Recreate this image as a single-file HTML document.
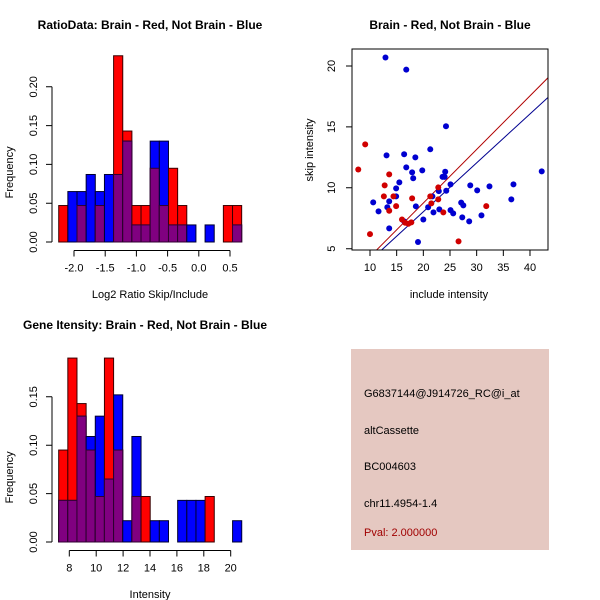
<!DOCTYPE html>
<html><head><meta charset="utf-8">
<style>
body{margin:0;background:#fff;}
svg{display:block;font-family:"Liberation Sans",sans-serif;}
</style></head>
<body>
<svg id="c" width="600" height="600" viewBox="0 0 600 600">
<rect width="600" height="600" fill="#fff"/>
<g id="h1"></g>
<g id="sc"></g>
<g id="h2"></g>
<g>
<rect x="351" y="349" width="198" height="201" fill="#e5c8c1"/>
<text x="364" y="397" font-size="11">G6837144@J914726_RC@i_at</text>
<text x="364" y="434" font-size="11">altCassette</text>
<text x="364" y="470" font-size="11">BC004603</text>
<text x="364" y="507" font-size="11">chr11.4954-1.4</text>
<text x="364" y="536" font-size="11" fill="#a00000">Pval: 2.000000</text>
</g>
</svg>
<script>
// ---- Histogram 1 data (RatioData) ----
const h1Red  = [0.047,0,0.047,0,0.047,0,0.24,0.143,0.047,0.047,0.095,0.047,0.095,0.047,0,0,0,0,0.047,0.047];
const h1Blue = [0,0.065,0.065,0.087,0.065,0.087,0.087,0.13,0.022,0.022,0.13,0.13,0.022,0.022,0.022,0,0.022,0,0,0.022];
const h1XTicks = [-2.0,-1.5,-1.0,-0.5,0.0,0.5];
const h1YTicks = [0.00,0.05,0.10,0.15,0.20];
// ---- Histogram 2 data (Gene intensity) ----
const h2Red  = [0.095,0.19,0.143,0.095,0.047,0.19,0.095,0,0.047,0.047,0,0,0,0,0,0,0.047,0,0,0];
const h2Blue = [0.043,0.043,0.13,0.109,0.13,0.065,0.152,0.022,0.109,0,0.022,0.022,0,0.043,0.043,0.043,0,0,0,0.022];
const h2XTicks = [8,10,12,14,16,18,20];
const h2YTicks = [0.00,0.05,0.10,0.15];
// ---- Scatter data ----
const blueX = [12.9,16.8,24.25,13.1,16.4,18.5,21.3,16.8,17.9,18.1,19.8,24.1,23.6,24.0,15.5,14.9,22.9,24.3,25.1,28.8,30.1,32.4,36.9,36.5,42.2,10.6,11.6,13.6,13.25,14.9,18.6,20.9,21.7,21.9,23.0,25.1,25.6,27.1,27.5,27.3,30.9,28.6,16.4,20.0,13.6,19.0];
const blueY = [20.7,19.7,15.05,12.66,12.75,12.5,13.16,11.68,11.27,10.78,11.43,11.32,10.9,10.9,10.45,9.95,9.73,9.76,10.28,10.2,9.79,10.12,10.28,9.05,11.35,8.8,8.06,8.89,8.4,9.3,8.48,8.4,9.3,7.98,8.23,8.17,7.9,8.78,8.56,7.57,7.74,7.24,7.24,7.4,6.67,5.55];
const redX = [7.8,9.1,10.0,13.6,12.75,12.6,13.6,14.4,14.9,16.0,16.6,17.2,17.75,17.9,21.3,21.5,22.8,22.8,23.75,26.6,31.8];
const redY = [11.5,13.57,6.2,11.1,10.2,9.3,8.12,9.3,8.5,7.4,7.13,7.05,7.16,9.13,9.3,8.72,10.03,9.05,7.98,5.6,8.5];
const redLine = [0.44,-0.05];   // slope, intercept
const blueLine = [0.4016,0.0];
const scXTicks = [10,15,20,25,30,35,40];
const scYTicks = [5,10,15,20];

const NS="http://www.w3.org/2000/svg";
function mk(parent,tag,attrs){const e=document.createElementNS(NS,tag);for(const k in attrs)e.setAttribute(k,attrs[k]);parent.appendChild(e);return e;}

function hist(gid,red,blue,lo,hi,xTicks,yTicks,x0,x1,y0,yPerUnit,xPx,title,titleY,xlab,xlabY,axisY,fmt){
  const g=document.getElementById(gid);
  const n=red.length, w=(hi-lo)/n;
  const sx=v=>xPx[0]+(v-xTicks[0])*xPx[1];
  const sy=v=>y0-v*yPerUnit;
  for(let i=0;i<n;i++){
    const a=sx(lo+i*w), b=sx(lo+(i+1)*w);
    const r=red[i], bl=blue[i], m=Math.min(r,bl);
    if(r>0){const e=mk(g,'rect',{x:a,y:sy(r),width:b-a,height:sy(0)-sy(r),fill:'#ff0000',stroke:'#3a0000','stroke-width':1});
      
      }
    if(bl>0){const e=mk(g,'rect',{x:a,y:sy(bl),width:b-a,height:sy(0)-sy(bl),fill:'#0000ff',stroke:'#000030','stroke-width':1});
      
      }
    if(m>0){const e=mk(g,'rect',{x:a,y:sy(m),width:b-a,height:sy(0)-sy(m),fill:'#800080',stroke:'#300030','stroke-width':1});
      
      }
  }
  const xa=mk(g,'path',{d:`M${sx(xTicks[0])},${axisY}H${sx(xTicks[xTicks.length-1])}`+xTicks.map(t=>`M${sx(t)},${axisY}v6`).join(''),stroke:'#000',fill:'none'});
  
  
  xTicks.forEach(t=>{const e=mk(g,'text',{x:sx(t),y:axisY+21,'font-size':11,'text-anchor':'middle'});e.textContent=fmt(t);
    
    });
  const ya=mk(g,'path',{d:`M52,${sy(yTicks[0])}V${sy(yTicks[yTicks.length-1])}`+yTicks.map(t=>`M52,${sy(t)}h-6`).join(''),stroke:'#000',fill:'none'});
  
  
  yTicks.forEach(t=>{const e=mk(g,'text',{x:0,y:0,'font-size':11,'text-anchor':'middle',transform:`translate(37,${sy(t)}) rotate(-90)`});e.textContent=t.toFixed(2);
    
    });
  const tt=mk(g,'text',{x:x0,y:titleY,'font-size':12,'font-weight':'bold','text-anchor':'middle'});tt.textContent=title;
  
  
  const xl=mk(g,'text',{x:x1,y:xlabY,'font-size':11,'text-anchor':'middle'});xl.textContent=xlab;
  
  
  const yl=mk(g,'text',{x:0,y:0,'font-size':11,'text-anchor':'middle',transform:`translate(13,${(sy(0)+sy(yTicks[yTicks.length-1]))/2+8}) rotate(-90)`});yl.textContent='Frequency';
  
  
}
hist('h1',h1Red,h1Blue,-2.245,0.687,h1XTicks,h1YTicks,150,150,242,776,[74,62.4],
  'RatioData: Brain - Red, Not Brain - Blue',29,'Log2 Ratio Skip/Include',298,250.5,t=>t.toFixed(1));
hist('h2',h2Red,h2Blue,7.21,20.82,h2XTicks,h2YTicks,145,150,542,968,[69.3,13.45],
  'Gene Itensity: Brain - Red, Not Brain - Blue',329,'Intensity',598,550.5,t=>String(t));

(function(){
  const g=document.getElementById('sc');
  const L=352,R=548,T=49,B=250;
  const sx=v=>370+(v-10)*5.333;
  const sy=v=>66-(v-20)*12.18;
  const cp=mk(g,'clipPath',{id:'scclip'});mk(cp,'rect',{x:L,y:T,width:R-L,height:B-T});
  [[redLine,'#b00000','red-fit-line'],[blueLine,'#000090','blue-fit-line']].forEach(([ln,col,nm])=>{
    const xa=0,xb=50;
    const e=mk(g,'line',{x1:sx(xa),y1:sy(ln[0]*xa+ln[1]),x2:sx(xb),y2:sy(ln[0]*xb+ln[1]),stroke:col,'stroke-width':1,'clip-path':'url(#scclip)'});
    
    
  });
  blueX.forEach((x,i)=>{const e=mk(g,'circle',{cx:sx(x),cy:sy(blueY[i]),r:3,fill:'#0000d0'});
    
    });
  redX.forEach((x,i)=>{const e=mk(g,'circle',{cx:sx(x),cy:sy(redY[i]),r:3,fill:'#d00000'});
    
    });
  const box=mk(g,'rect',{x:L,y:T,width:R-L,height:B-T,fill:'none',stroke:'#000'});
  
  
  const xa=mk(g,'path',{d:scXTicks.map(t=>`M${sx(t)},${B}v6`).join(''),stroke:'#000'});
  
  
  scXTicks.forEach(t=>{const e=mk(g,'text',{x:sx(t),y:B+21,'font-size':11,'text-anchor':'middle'});e.textContent=t;
    
    });
  const ya=mk(g,'path',{d:scYTicks.map(t=>`M${L},${sy(t)}h-6`).join(''),stroke:'#000'});
  
  
  scYTicks.forEach(t=>{const e=mk(g,'text',{x:0,y:0,'font-size':11,'text-anchor':'middle',transform:`translate(335,${sy(t)}) rotate(-90)`});e.textContent=t;
    
    });
  const tt=mk(g,'text',{x:450,y:29,'font-size':12,'font-weight':'bold','text-anchor':'middle'});tt.textContent='Brain - Red, Not Brain - Blue';
  
  
  const xl=mk(g,'text',{x:449,y:298,'font-size':11,'text-anchor':'middle'});xl.textContent='include intensity';
  
  
  const yl=mk(g,'text',{x:0,y:0,'font-size':11,'text-anchor':'middle',transform:'translate(313,150) rotate(-90)'});yl.textContent='skip intensity';
  
  
})();
</script>
</body></html>
